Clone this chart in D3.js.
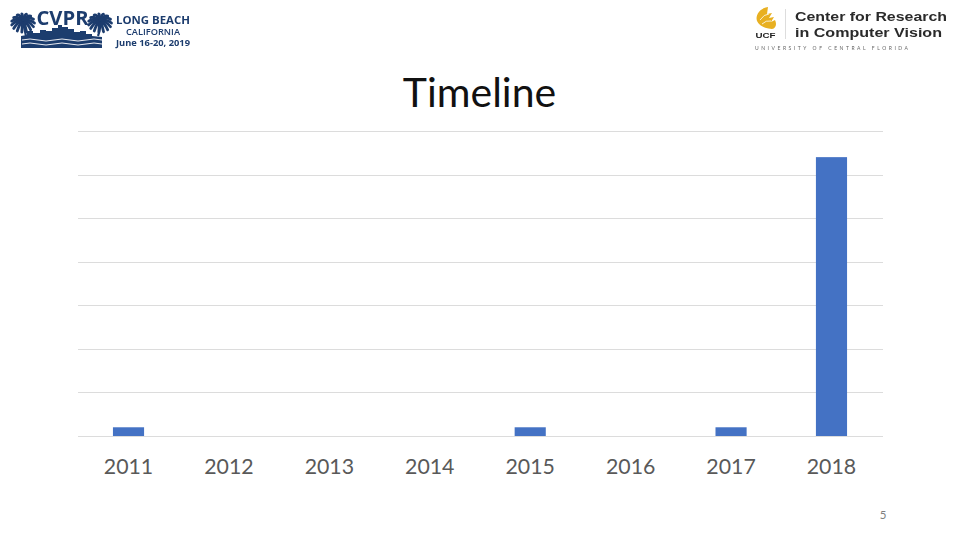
<!DOCTYPE html>
<html><head><meta charset="utf-8">
<script src="https://cdn.jsdelivr.net/npm/d3@7/dist/d3.min.js"></script>
<style>html,body{margin:0;background:#fff}svg{display:block}text{font-family:Lato,"Open Sans",sans-serif}</style>
</head><body><svg id="c" width="960" height="540"></svg>
<script>
const years = ["2011","2012","2013","2014","2015","2016","2017","2018"];
const counts = [1,0,0,0,1,0,1,32];
const yTicks = [0,5,10,15,20,25,30,35];
const titleText = "Timeline";
const pageNumber = "5";

const svg = d3.select("#c");
const defs = svg.append("defs");
defs.append("filter").attr("id","soft").append("feGaussianBlur").attr("stdDeviation",0.35);

const x = d3.scaleBand().domain(years).range([78.3,881.7]).paddingInner(0.69).paddingOuter(0.345);
const y = d3.scaleLinear().domain([0,35]).range([436,131]);

svg.append("g").selectAll("line").data(yTicks).join("line")
  .attr("x1",78).attr("x2",883).attr("y1",d=>Math.round(y(d))+0.5).attr("y2",d=>Math.round(y(d))+0.5)
  .attr("stroke","#dcdcdc").attr("stroke-width",1);

svg.append("g").selectAll("rect").data(years).join("rect")
  .attr("x",d=>x(d)).attr("width",x.bandwidth())
  .attr("y",(d,i)=>y(counts[i])).attr("height",(d,i)=>y(0)-y(counts[i]))
  .attr("fill","#4472c4");

svg.append("g").selectAll("text").data(years).join("text")
  .attr("x",d=>x(d)+x.bandwidth()/2).attr("y",474).attr("text-anchor","middle")
  .attr("font-size",21.3).attr("fill","#595959").text(d=>d);

svg.append("text").attr("x",479.5).attr("y",107).attr("text-anchor","middle")
  .attr("font-size",41).attr("fill","#111").text(titleText);
svg.append("text").attr("x",883).attr("y",519).attr("text-anchor","middle")
  .attr("font-size",11.5).attr("fill","#7f7f7f").text(pageNumber);

// CVPR logo
const navy="#1d3c6e";
const L=svg.append("g").attr("filter","url(#soft)");
function palm(cx,cy,r,base){
  const g=L.append("g").attr("fill","none").attr("stroke",navy);
  g.append("path").attr("d",`M${cx} ${cy} Q${cx+1} ${(cy+base[1])/2} ${base[0]} ${base[1]}`).attr("stroke-width",2.2);
  d3.range(0,360,24).forEach(a=>{
    const t=a*Math.PI/180, c=Math.cos(t), s=Math.sin(t);
    const ex=cx+r*c, ey=cy+r*s*0.8+3;
    g.append("path").attr("d",`M${cx} ${cy} Q${cx+r*0.6*c} ${cy+r*0.6*s*0.8-1} ${ex} ${ey}`)
      .attr("stroke-width",2.8).attr("stroke-linecap","round");
  });
}
palm(23,20,11.5,[26,36]);
palm(100,20,11.5,[98,36]);
L.append("text").attr("x",36.5).attr("y",24.5).attr("font-size",20).attr("font-weight",700)
  .attr("fill",navy).style("font-family","'Open Sans'").attr("textLength",52).attr("lengthAdjust","spacingAndGlyphs").text("CVPR");
L.append("path").attr("fill",navy)
  .attr("d","M21 48 V36 L27 35 V31 H33 V33 H40 V30 H46 V31 H52 V28 H58 V25 H62 V27 H68 V29 H74 V32 H80 V31 H86 V34 H92 V36 L102 37 V48 Z");
L.append("path").attr("fill","none").attr("stroke","#fff").attr("stroke-width",0.9)
  .attr("d","M22 40 Q30 38 38 40 T54 40 T70 40 T86 40 T102 40 M22 44 Q30 42 38 44 T54 44 T70 44 T86 44 T102 44");
L.append("text").attr("x",153).attr("y",24).attr("text-anchor","middle").attr("font-size",11).attr("font-weight",700)
  .attr("fill",navy).style("font-family","'Open Sans'").attr("textLength",74).attr("lengthAdjust","spacingAndGlyphs").text("LONG BEACH");
L.append("text").attr("x",153).attr("y",35).attr("text-anchor","middle").attr("font-size",8).attr("font-weight",600)
  .attr("fill",navy).style("font-family","'Open Sans'").attr("textLength",54).attr("lengthAdjust","spacingAndGlyphs").text("CALIFORNIA");
L.append("text").attr("x",153).attr("y",46).attr("text-anchor","middle").attr("font-size",9).attr("font-weight",700)
  .attr("fill",navy).style("font-family","'Open Sans'").attr("textLength",74).attr("lengthAdjust","spacingAndGlyphs").text("June 16-20, 2019");

// UCF / CRCV logo
const U=svg.append("g").attr("filter","url(#soft)");
U.append("path").attr("fill","#e8b020")
  .attr("d","M768 7 C760 8 755 15 757 21 C759 26 765 28 772 29 C776 28 777 24 775 20 L771 22 L774 17 L769 18 L772 13 L767 14 Z");
U.append("path").attr("fill","none").attr("stroke","#fff").attr("stroke-width",0.8)
  .attr("d","M760 20 Q764 14 769 14 M762 24 Q766 20 771 21");
U.append("text").attr("x",765.5).attr("y",38).attr("text-anchor","middle").attr("font-size",8)
  .attr("fill","#222").style("font-family","'Liberation Sans'").attr("font-weight",700).attr("textLength",20).attr("lengthAdjust","spacingAndGlyphs").text("UCF");
U.append("rect").attr("x",785).attr("y",9).attr("width",1).attr("height",30).attr("fill","#ddd");
U.append("text").attr("x",795).attr("y",21).attr("font-size",13).attr("font-weight",700).attr("fill","#2b2b2b")
  .style("font-family","'Liberation Sans'").attr("textLength",152).attr("lengthAdjust","spacingAndGlyphs").text("Center for Research");
U.append("text").attr("x",795).attr("y",36.5).attr("font-size",13).attr("font-weight",700).attr("fill","#2b2b2b")
  .style("font-family","'Liberation Sans'").attr("textLength",147).attr("lengthAdjust","spacingAndGlyphs").text("in Computer Vision");
U.append("text").attr("x",755).attr("y",50).attr("font-size",5).attr("fill","#666")
  .attr("textLength",153).text("UNIVERSITY OF CENTRAL FLORIDA");
</script></body></html>
